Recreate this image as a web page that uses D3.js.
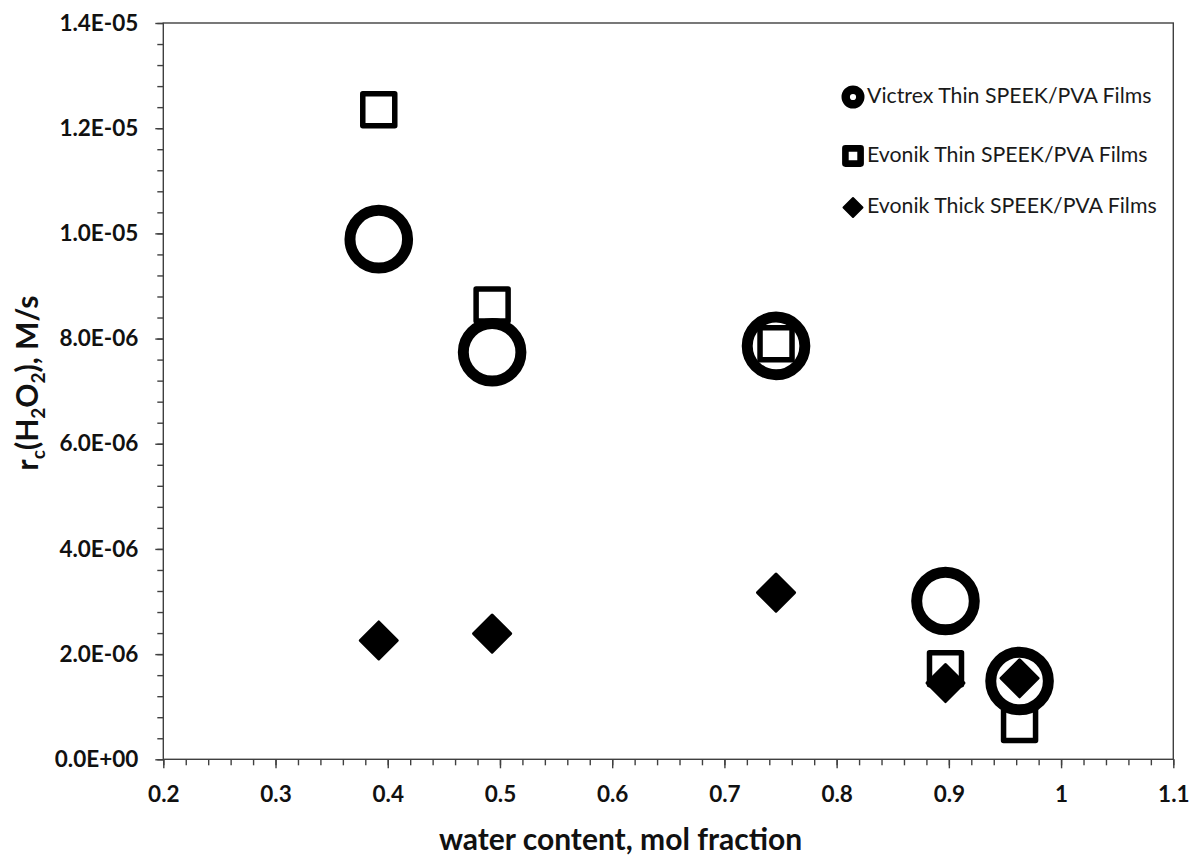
<!DOCTYPE html>
<html>
<head>
<meta charset="utf-8">
<script src="https://cdn.jsdelivr.net/npm/d3@7"></script>
<style>
  html, body { margin: 0; padding: 0; background: #fff; }
  svg { display: block; }
  text { font-family: Lato, "Open Sans", sans-serif; }
</style>
</head>
<body>
<svg id="chart" width="1193" height="858"></svg>
<script>
// water content (mol fraction) shared by the three film series
const waterContent = [0.392, 0.493, 0.746, 0.897, 0.963];

// rate of H2O2 formation, M/s
const victrexThin = [9.89e-6, 7.74e-6, 7.86e-6, 3.01e-6, 1.49e-6];
const evonikThin  = [1.235e-5, 8.64e-6, 7.90e-6, 1.72e-6, 0.66e-6];
const evonikThick = [2.26e-6, 2.39e-6, 3.17e-6, 1.45e-6, 1.54e-6];

const seriesNames = [
  "Victrex Thin SPEEK/PVA Films",
  "Evonik Thin SPEEK/PVA Films",
  "Evonik Thick SPEEK/PVA Films"
];

const xTickValues = [0.2, 0.3, 0.4, 0.5, 0.6, 0.7, 0.8, 0.9, 1, 1.1];
const yTickValues = [0, 2e-6, 4e-6, 6e-6, 8e-6, 1e-5, 1.2e-5, 1.4e-5];

const svg = d3.select("#chart");
const axisColor = "#404040";

const plotLeft = 163.3, plotRight = 1173.3, plotTop = 23, plotBottom = 759.3;

const x = d3.scaleLinear().domain([0.2, 1.1]).range([plotLeft, plotRight]);
const y = d3.scaleLinear().domain([0, 1.4e-5]).range([plotBottom, plotTop]);

// scientific labels like 1.4E-05
function sciLabel(v) {
  const s = d3.format(".1e")(v);          // "1.4e-5"
  const [m, e] = s.split("e");
  const n = +e;
  const sign = n < 0 ? "-" : "+";
  return m + "E" + sign + String(Math.abs(n)).padStart(2, "0");
}

// plot frame
svg.append("rect")
  .attr("x", plotLeft).attr("y", plotTop)
  .attr("width", plotRight - plotLeft).attr("height", plotBottom - plotTop)
  .attr("fill", "none").attr("stroke", axisColor).attr("stroke-width", 1.4);

// minor ticks
const xMinor = d3.range(0, 46).map(i => 0.2 + i * 0.02);
const yMinor = d3.range(0, 36).map(i => i * 4e-7);

svg.append("g")
  .attr("transform", `translate(0,${plotBottom})`)
  .call(d3.axisBottom(x).tickValues(xMinor).tickSize(6).tickFormat(""))
  .call(g => g.select(".domain").remove())
  .call(g => g.selectAll("line").attr("stroke", axisColor).attr("stroke-width", 1.4));

svg.append("g")
  .attr("transform", `translate(${plotLeft},0)`)
  .call(d3.axisLeft(y).tickValues(yMinor).tickSize(6).tickFormat(""))
  .call(g => g.select(".domain").remove())
  .call(g => g.selectAll("line").attr("stroke", axisColor).attr("stroke-width", 1.4));

// major ticks with labels
svg.append("g")
  .attr("transform", `translate(0,${plotBottom})`)
  .call(d3.axisBottom(x).tickValues(xTickValues).tickSize(9).tickPadding(18)
    .tickFormat(d => String(d)))
  .call(g => g.select(".domain").remove())
  .call(g => g.selectAll("line").attr("stroke", axisColor).attr("stroke-width", 1.4))
  .call(g => g.selectAll("text")
    .attr("fill", "#111").attr("font-size", 22.5).attr("font-weight", 700)
    .attr("font-family", "Lato, 'Open Sans', sans-serif"));

svg.append("g")
  .attr("transform", `translate(${plotLeft},0)`)
  .call(d3.axisLeft(y).tickValues(yTickValues).tickSize(8).tickPadding(17)
    .tickFormat(sciLabel))
  .call(g => g.select(".domain").remove())
  .call(g => g.selectAll("line").attr("stroke", axisColor).attr("stroke-width", 1.4))
  .call(g => g.selectAll("text")
    .attr("fill", "#111").attr("font-size", 22.5).attr("font-weight", 700)
    .attr("font-family", "Lato, 'Open Sans', sans-serif"));

// axis titles
svg.append("text")
  .attr("x", 620.5).attr("y", 850)
  .attr("text-anchor", "middle")
  .attr("font-size", 30).attr("font-weight", 700).attr("fill", "#111")
  .text("water content, mol fraction");

const yTitle = svg.append("text")
  .attr("transform", `translate(38,383) rotate(-90)`)
  .attr("text-anchor", "middle")
  .attr("font-size", 30).attr("font-weight", 700).attr("fill", "#111");
yTitle.append("tspan").text("r");
yTitle.append("tspan").attr("font-size", 19).attr("dy", 7).text("c");
yTitle.append("tspan").attr("dy", -7).text("(H");
yTitle.append("tspan").attr("font-size", 19).attr("dy", 7).text("2");
yTitle.append("tspan").attr("dy", -7).text("O");
yTitle.append("tspan").attr("font-size", 19).attr("dy", 7).text("2");
yTitle.append("tspan").attr("dy", -7).text("), M/s");

// marker shapes
function diamondPath(h) {
  return `M0,${-h}L${h},0L0,${h}L${-h},0Z`;
}

const plot = svg.append("g");

const circleData = waterContent.map((w, i) => ({ w, v: victrexThin[i] }));
const squareData = waterContent.map((w, i) => ({ w, v: evonikThin[i] }));
const diamondData = waterContent.map((w, i) => ({ w, v: evonikThick[i] }));

plot.selectAll("circle.victrex").data(circleData).join("circle")
  .attr("class", "victrex")
  .attr("cx", d => x(d.w)).attr("cy", d => y(d.v))
  .attr("r", 28.8)
  .attr("fill", "none").attr("stroke", "#000").attr("stroke-width", 11);

const sq = 32;
plot.selectAll("rect.evonik-thin").data(squareData).join("rect")
  .attr("class", "evonik-thin")
  .attr("x", d => x(d.w) - sq / 2).attr("y", d => y(d.v) - sq / 2)
  .attr("width", sq).attr("height", sq)
  .attr("fill", "none").attr("stroke", "#000").attr("stroke-width", 5.5)
  .attr("stroke-linejoin", "round");

plot.selectAll("path.evonik-thick").data(diamondData).join("path")
  .attr("class", "evonik-thick")
  .attr("transform", d => `translate(${x(d.w)},${y(d.v)})`)
  .attr("d", diamondPath(18.5))
  .attr("fill", "#000").attr("stroke", "#000").attr("stroke-width", 3)
  .attr("stroke-linejoin", "round");

// legend
const legendRows = [97, 156, 207.5];
const legend = svg.append("g");
const lx = 853;

legend.append("circle")
  .attr("cx", lx).attr("cy", legendRows[0]).attr("r", 7.3)
  .attr("fill", "none").attr("stroke", "#000").attr("stroke-width", 8.4);

legend.append("rect")
  .attr("x", lx - 7.6).attr("y", legendRows[1] - 7.6)
  .attr("width", 15.2).attr("height", 15.2)
  .attr("fill", "none").attr("stroke", "#000").attr("stroke-width", 6.6)
  .attr("stroke-linejoin", "round");

legend.append("path")
  .attr("transform", `translate(${lx},${legendRows[2]})`)
  .attr("d", diamondPath(9.5))
  .attr("fill", "#000").attr("stroke", "#000").attr("stroke-width", 2)
  .attr("stroke-linejoin", "round");

legend.selectAll("text").data(seriesNames).join("text")
  .attr("x", 867).attr("y", (d, i) => legendRows[i] + 5.5)
  .attr("font-size", 21.3).attr("fill", "#1a1a1a")
  .text(d => d);
</script>
</body>
</html>
